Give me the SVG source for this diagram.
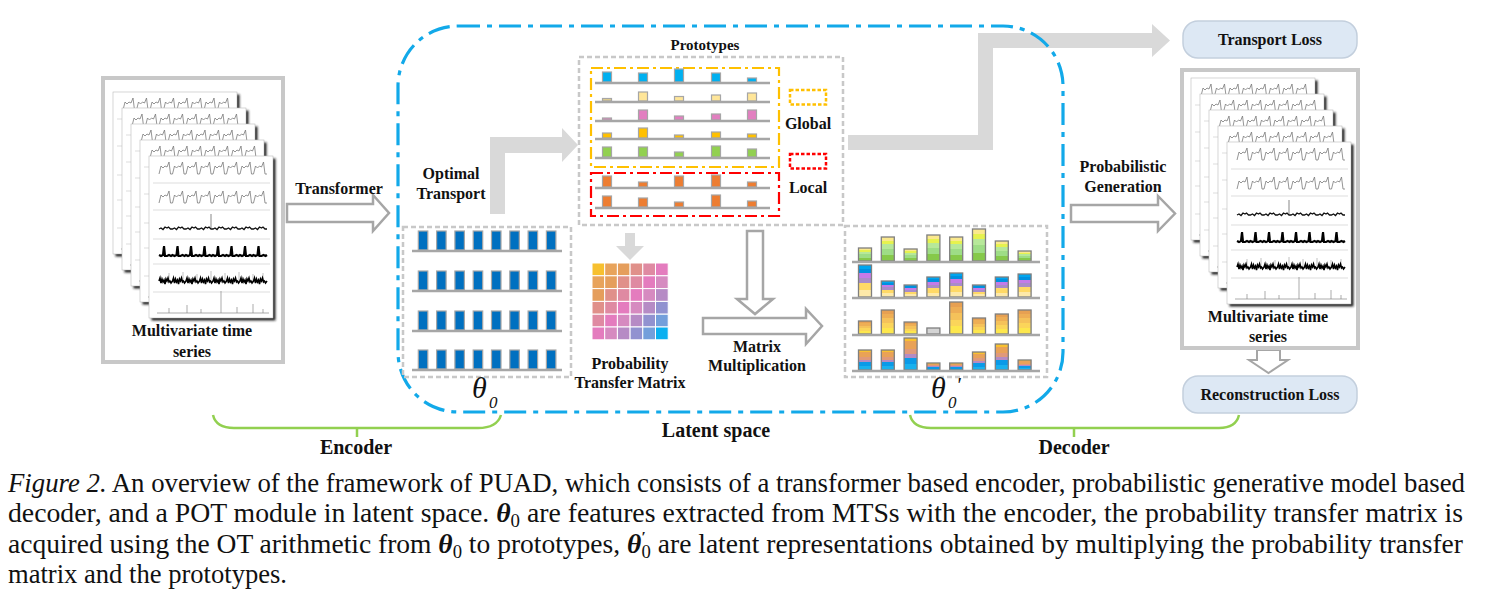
<svg xmlns="http://www.w3.org/2000/svg" width="1493" height="609" viewBox="0 0 1493 609">
<style>
  .lbl{font-family:"Liberation Serif","Times New Roman",serif;font-weight:bold;font-size:16px;fill:#111;text-anchor:middle}
  .big{font-family:"Liberation Serif","Times New Roman",serif;font-weight:bold;font-size:20px;fill:#111;text-anchor:middle}
  .cap{font-family:"Liberation Serif","Times New Roman",serif;font-size:26.5px;fill:#111}
  .math{font-family:"Liberation Serif","Times New Roman",serif;font-style:italic;fill:#111}
  .gbox{fill:none;stroke:#c8c8c8;stroke-width:2.5;stroke-dasharray:5 3}
  .base{stroke:#a6a6a6;stroke-width:2.5}
  .pb{stroke:#a6a6a6;stroke-width:1.2}
  .sb{stroke:#7f7f7f;stroke-width:1.3}
  .hollow{fill:#fff;stroke:#a6a6a6;stroke-width:2.5;stroke-linejoin:miter}
  .solid{fill:#d9d9d9;stroke:none}
  .brk{fill:none;stroke:#92d050;stroke-width:2.5}
  .lossbox{fill:#dde8f4;stroke:#c3cfdd;stroke-width:1.5}
  .w1{fill:none;stroke:#7a7a7a;stroke-width:0.8}
  .w3{fill:none;stroke:#111;stroke-width:1.3}
  .w4{fill:none;stroke:#000;stroke-width:2.2}
  .w5{fill:none;stroke:#000;stroke-width:1.6}
</style>
<defs>
  <filter id="blur" x="-10%" y="-10%" width="120%" height="120%"><feGaussianBlur stdDeviation="1.2"/></filter>
  <linearGradient id="gGreen" x1="0" y1="0" x2="0" y2="1">
    <stop offset="0" stop-color="#fbe98d"/><stop offset="0.15" stop-color="#fbe98d"/>
    <stop offset="0.15" stop-color="#e6f24f"/><stop offset="0.3" stop-color="#e6f24f"/>
    <stop offset="0.3" stop-color="#b7e89a"/><stop offset="0.5" stop-color="#b7e89a"/>
    <stop offset="0.5" stop-color="#9edd86"/><stop offset="0.75" stop-color="#9edd86"/>
    <stop offset="0.75" stop-color="#86c94a"/><stop offset="1" stop-color="#86c94a"/>
  </linearGradient>
  <linearGradient id="gBlue" x1="0" y1="0" x2="0" y2="1">
    <stop offset="0" stop-color="#00a6ef"/><stop offset="0.12" stop-color="#00a6ef"/>
    <stop offset="0.12" stop-color="#0090e0"/><stop offset="0.26" stop-color="#0090e0"/>
    <stop offset="0.26" stop-color="#c47be8"/><stop offset="0.4" stop-color="#c47be8"/>
    <stop offset="0.4" stop-color="#a98cc9"/><stop offset="0.55" stop-color="#a98cc9"/>
    <stop offset="0.55" stop-color="#ffd966"/><stop offset="0.78" stop-color="#ffd966"/>
    <stop offset="0.78" stop-color="#fde9a9"/><stop offset="1" stop-color="#fde9a9"/>
  </linearGradient>
  <linearGradient id="gOrange" x1="0" y1="0" x2="0" y2="1">
    <stop offset="0" stop-color="#e7a052"/><stop offset="0.15" stop-color="#e7a052"/>
    <stop offset="0.15" stop-color="#eeae55"/><stop offset="0.35" stop-color="#eeae55"/>
    <stop offset="0.35" stop-color="#f5c25a"/><stop offset="0.55" stop-color="#f5c25a"/>
    <stop offset="0.55" stop-color="#fbd55a"/><stop offset="0.75" stop-color="#fbd55a"/>
    <stop offset="0.75" stop-color="#fde74d"/><stop offset="1" stop-color="#fde74d"/>
  </linearGradient>
  <linearGradient id="gMix" x1="0" y1="0" x2="0" y2="1">
    <stop offset="0" stop-color="#f9c12f"/><stop offset="0.1" stop-color="#f9c12f"/>
    <stop offset="0.1" stop-color="#e9a257"/><stop offset="0.35" stop-color="#e9a257"/>
    <stop offset="0.35" stop-color="#e0997a"/><stop offset="0.5" stop-color="#e0997a"/>
    <stop offset="0.5" stop-color="#b48bc4"/><stop offset="0.62" stop-color="#b48bc4"/>
    <stop offset="0.62" stop-color="#0a9ae8"/><stop offset="0.82" stop-color="#0a9ae8"/>
    <stop offset="0.82" stop-color="#19b1ee"/><stop offset="1" stop-color="#19b1ee"/>
  </linearGradient>
  <g id="sheet">
    <rect x="2.5" y="2.5" width="124" height="162" fill="#222" filter="url(#blur)"/>
    <rect x="0" y="0" width="124" height="162" fill="#fff" stroke="#bbb" stroke-width="0.6"/>
    <path d="M4,27H121M4,54H121M4,83H121M4,108H121M4,136H121" stroke="#d4d4d4" stroke-width="0.8"/>
    <path class="w1" d="M10,18l2,-8l2,2l2,-2l2,1l2,-5l1.5,12l2,0l2,-8l2,2l2,-2l2,1l2,-5l1.5,12l2,0l2,-8l2,2l2,-2l2,1l2,-5l1.5,12l2,0l2,-8l2,2l2,-2l2,1l2,-5l1.5,12l2,0l2,-8l2,2l2,-2l2,1l2,-5l1.5,12l2,0l2,-8l2,2l2,-2l2,1l2,-5l1.5,12l2,0l2,-8l2,2l2,-2l2,1l2,-5l1.5,12l2,0l2,-8l2,2l2,-2l2,1l2,-5l1.5,12l2,0"/>
    <path class="w1" d="M10,47l2,-8l2,2l2,-2l2,1l2,-5l1.5,12l2,0l2,-8l2,2l2,-2l2,1l2,-5l1.5,12l2,0l2,-8l2,2l2,-2l2,1l2,-5l1.5,12l2,0l2,-8l2,2l2,-2l2,1l2,-5l1.5,12l2,0l2,-8l2,2l2,-2l2,1l2,-5l1.5,12l2,0l2,-8l2,2l2,-2l2,1l2,-5l1.5,12l2,0l2,-8l2,2l2,-2l2,1l2,-5l1.5,12l2,0l2,-8l2,2l2,-2l2,1l2,-5l1.5,12l2,0"/>
    <path class="w3" d="M10,73l2,-1l2,1.5l2,-2.5l2,1l1.5,-1l2,2l2,0l2,-1l2,1.5l2,-2.5l2,1l1.5,-1l2,2l2,0l2,-1l2,1.5l2,-2.5l2,1l1.5,-1l2,2l2,0l2,-1l2,1.5l2,-2.5l2,1l1.5,-1l2,2l2,0l2,-1l2,1.5l2,-2.5l2,1l1.5,-1l2,2l2,0l2,-1l2,1.5l2,-2.5l2,1l1.5,-1l2,2l2,0l2,-1l2,1.5l2,-2.5l2,1l1.5,-1l2,2l2,0l2,-1l2,1.5l2,-2.5l2,1l1.5,-1l2,2l2,0"/>
    <path d="M62,72V58" stroke="#555" stroke-width="0.7"/>
    <path class="w4" d="M10,99l2,1l2,-1l1,-9l1,10l2,0l2,-1l2,1l1.5,-1l2,1l2,-1l1,-9l1,10l2,0l2,-1l2,1l1.5,-1l2,1l2,-1l1,-9l1,10l2,0l2,-1l2,1l1.5,-1l2,1l2,-1l1,-9l1,10l2,0l2,-1l2,1l1.5,-1l2,1l2,-1l1,-9l1,10l2,0l2,-1l2,1l1.5,-1l2,1l2,-1l1,-9l1,10l2,0l2,-1l2,1l1.5,-1l2,1l2,-1l1,-9l1,10l2,0l2,-1l2,1l1.5,-1l2,1l2,-1l1,-9l1,10l2,0l2,-1l2,1l1.5,-1"/>
    <path d="M20,125v-8M34,125v-9M48,125v-7M62,125v-10M76,125v-8M90,125v-9M104,125v-7M114,125v-8" stroke="#999" stroke-width="0.6"/>
    <path class="w5" d="M10,125l1,-3l1,5l1,-4l1,3l1,-2l1,4l1,-5l1,2l1,-3l1,4l1,-1l1,2l1.5,-2l1,-3l1,5l1,-4l1,3l1,-2l1,4l1,-5l1,2l1,-3l1,4l1,-1l1,2l1.5,-2l1,-3l1,5l1,-4l1,3l1,-2l1,4l1,-5l1,2l1,-3l1,4l1,-1l1,2l1.5,-2l1,-3l1,5l1,-4l1,3l1,-2l1,4l1,-5l1,2l1,-3l1,4l1,-1l1,2l1.5,-2l1,-3l1,5l1,-4l1,3l1,-2l1,4l1,-5l1,2l1,-3l1,4l1,-1l1,2l1.5,-2l1,-3l1,5l1,-4l1,3l1,-2l1,4l1,-5l1,2l1,-3l1,4l1,-1l1,2l1.5,-2l1,-3l1,5l1,-4l1,3l1,-2l1,4l1,-5l1,2l1,-3l1,4l1,-1l1,2l1.5,-2l1,-3l1,5l1,-4l1,3l1,-2l1,4l1,-5l1,2l1,-3l1,4l1,-1l1,2l1.5,-2"/>
    <path d="M8,157H120M20,157v-5M38,157v-8M52,157v-4M72,157v-22M88,157v-6M104,157v-9M114,157v-4" stroke="#888" stroke-width="0.7" fill="none"/>
  </g>
  <g id="brow">
    <rect x="418.3" y="-20" width="9.5" height="19" fill="#0070c0" class="pb"/>
    <rect x="436.6" y="-20" width="9.5" height="19" fill="#0070c0" class="pb"/>
    <rect x="454.9" y="-20" width="9.5" height="19" fill="#0070c0" class="pb"/>
    <rect x="473.2" y="-20" width="9.5" height="19" fill="#0070c0" class="pb"/>
    <rect x="491.5" y="-20" width="9.5" height="19" fill="#0070c0" class="pb"/>
    <rect x="509.8" y="-20" width="9.5" height="19" fill="#0070c0" class="pb"/>
    <rect x="528.1" y="-20" width="9.5" height="19" fill="#0070c0" class="pb"/>
    <rect x="546.4" y="-20" width="9.5" height="19" fill="#0070c0" class="pb"/>
    <line x1="412" y1="0" x2="562" y2="0" class="base"/>
  </g>
</defs>
<rect width="1493" height="609" fill="#fff"/>

<!-- connectors -->
<g id="connectors">
  <polygon class="solid" points="848,135 978,135 978,33 1152,33 1152,24 1170,40.5 1152,57 1152,48 993,48 993,150 848,150"/>
  <polygon class="hollow" points="287,204 373,204 373,195 389,213 373,231 373,222 287,222"/>
  <polygon class="solid" points="490,214 490,137 562,137 562,128 578,145 562,162 562,153 505,153 505,214"/>
  <polygon class="solid" points="625,233 635,233 635,246 644,246 630,260 616,246 625,246"/>
  <polygon class="hollow" points="747,231 763,231 763,299 773,299 755,314 737,299 747,299"/>
  <polygon class="hollow" points="703,318 806,318 806,309 822,326 806,344 806,334 703,334"/>
  <polygon class="hollow" points="1071,205 1158,205 1158,196 1175,213.5 1158,231 1158,222 1071,222"/>
  <polygon class="hollow" points="1257,350 1280,350 1280,360 1288,360 1268.5,373 1249,360 1257,360" style="stroke-width:2"/>
</g>

<!-- latent space boundary -->
<g id="latent-space">
  <rect x="398" y="26" width="665" height="386" rx="60" fill="none" stroke="#12a9e9" stroke-width="3.2" stroke-dasharray="22 7 5 7"/>
</g>

<!-- input MTS -->
<g id="mts-input">
  <rect x="103" y="78" width="180" height="284" fill="#fff" stroke="#c8c8c8" stroke-width="4"/>
  <use href="#sheet" x="113" y="92"/>
  <use href="#sheet" x="122" y="108"/>
  <use href="#sheet" x="131" y="124"/>
  <use href="#sheet" x="140" y="140"/>
  <use href="#sheet" x="149" y="156"/>
  <text class="lbl" x="192" y="336">Multivariate time</text>
  <text class="lbl" x="192" y="357">series</text>
</g>

<g id="labels">
  <text class="lbl" x="339" y="193.5">Transformer</text>
  <text class="lbl" x="451" y="178.5">Optimal</text>
  <text class="lbl" x="451" y="198.5">Transport</text>
  <text class="lbl" x="757" y="352">Matrix</text>
  <text class="lbl" x="757" y="371">Multiplication</text>
  <text class="lbl" x="1123" y="172">Probabilistic</text>
  <text class="lbl" x="1123" y="192">Generation</text>
</g>

<!-- theta0 -->
<g id="theta0">
  <rect class="gbox" x="403" y="227" width="168" height="150"/>
  <use href="#brow" transform="translate(0,251)"/>
  <use href="#brow" transform="translate(0,291)"/>
  <use href="#brow" transform="translate(0,331)"/>
  <use href="#brow" transform="translate(0,370)"/>
  <text class="math" x="472" y="398" font-size="30">θ</text>
  <text class="math" x="489" y="408" font-size="17" font-style="normal">0</text>
</g>

<!-- prototypes -->
<g id="prototypes">
  <text class="lbl" x="705" y="50" style="font-size:15px">Prototypes</text>
  <rect class="gbox" x="579" y="57" width="264" height="168"/>
  <rect x="591" y="68" width="188" height="99" fill="none" stroke="#ffc000" stroke-width="2.2" stroke-dasharray="12 4 3 4"/>
  <rect x="591" y="173" width="188" height="43" fill="none" stroke="#ff0000" stroke-width="2.2" stroke-dasharray="12 4 3 4"/>
  <g class="pb">
    <rect x="602.5" y="72" width="9" height="10" fill="#00b0f0"/>
    <rect x="638.5" y="73" width="9" height="9" fill="#00b0f0"/>
    <rect x="674.5" y="69" width="9" height="13" fill="#00b0f0"/>
    <rect x="711.5" y="73" width="9" height="9" fill="#00b0f0"/>
    <rect x="747.5" y="78" width="9" height="4" fill="#00b0f0"/>
    <rect x="602.5" y="98.5" width="9" height="2.5" fill="#e3cf8c"/>
    <rect x="638.5" y="92" width="9" height="9" fill="#ffe699"/>
    <rect x="674.5" y="96.5" width="9" height="4.5" fill="#ffe699"/>
    <rect x="711.5" y="95" width="9" height="6" fill="#ffe699"/>
    <rect x="747.5" y="93" width="9" height="8" fill="#ffe699"/>
    <rect x="602.5" y="118" width="9" height="2" fill="#e27fc0"/>
    <rect x="638.5" y="110" width="9" height="10" fill="#e27fc0"/>
    <rect x="674.5" y="116" width="9" height="4" fill="#e27fc0"/>
    <rect x="711.5" y="114" width="9" height="6" fill="#e27fc0"/>
    <rect x="747.5" y="110" width="9" height="10" fill="#e27fc0"/>
    <rect x="602.5" y="133" width="9" height="5" fill="#ffc000"/>
    <rect x="638.5" y="128" width="9" height="10" fill="#ffc000"/>
    <rect x="674.5" y="135" width="9" height="3" fill="#ffc000"/>
    <rect x="711.5" y="132" width="9" height="6" fill="#ffc000"/>
    <rect x="747.5" y="134" width="9" height="4" fill="#ffc000"/>
    <rect x="602.5" y="147" width="9" height="10" fill="#92d050"/>
    <rect x="638.5" y="147" width="9" height="10" fill="#92d050"/>
    <rect x="674.5" y="152" width="9" height="5" fill="#92d050"/>
    <rect x="711.5" y="146" width="9" height="11" fill="#92d050"/>
    <rect x="747.5" y="149" width="9" height="8" fill="#92d050"/>
    <rect x="602.5" y="176" width="9" height="11" fill="#ed7d31"/>
    <rect x="638.5" y="182" width="9" height="5" fill="#ed7d31"/>
    <rect x="674.5" y="176" width="9" height="11" fill="#ed7d31"/>
    <rect x="711.5" y="175" width="9" height="12" fill="#ed7d31"/>
    <rect x="747.5" y="182" width="9" height="5" fill="#ed7d31"/>
    <rect x="602.5" y="196" width="9" height="11" fill="#ed7d31"/>
    <rect x="638.5" y="198" width="9" height="9" fill="#ed7d31"/>
    <rect x="674.5" y="202" width="9" height="5" fill="#ed7d31"/>
    <rect x="711.5" y="195" width="9" height="12" fill="#ed7d31"/>
    <rect x="747.5" y="201" width="9" height="6" fill="#ed7d31"/>
  </g>
  <path class="base" d="M595,83H770M595,102H770M595,121H770M595,139H770M595,158H770M595,188H770M595,208H770"/>
  <rect x="790" y="90" width="36" height="14.5" fill="none" stroke="#ffc000" stroke-width="2.5" stroke-dasharray="3.5 2"/>
  <rect x="790" y="154" width="36" height="14.5" fill="none" stroke="#ff0000" stroke-width="2.5" stroke-dasharray="3.5 2"/>
  <text class="lbl" x="808" y="129">Global</text>
  <text class="lbl" x="808" y="193">Local</text>
</g>

<!-- probability transfer matrix -->
<g id="transfer-matrix" stroke="#fff" stroke-width="1">
  <rect x="592" y="263" width="12.7" height="12.8" fill="#f7c02f"/>
  <rect x="604.7" y="263" width="12.7" height="12.8" fill="#e8a35b"/>
  <rect x="617.4" y="263" width="12.7" height="12.8" fill="#e59e5c"/>
  <rect x="630.1" y="263" width="12.7" height="12.8" fill="#e0908a"/>
  <rect x="642.8" y="263" width="12.7" height="12.8" fill="#df8aa2"/>
  <rect x="655.5" y="263" width="12.7" height="12.8" fill="#e47cbe"/>
  <rect x="592" y="275.8" width="12.7" height="12.8" fill="#e8a35b"/>
  <rect x="604.7" y="275.8" width="12.7" height="12.8" fill="#e59e5c"/>
  <rect x="617.4" y="275.8" width="12.7" height="12.8" fill="#e0908a"/>
  <rect x="630.1" y="275.8" width="12.7" height="12.8" fill="#df8aa2"/>
  <rect x="642.8" y="275.8" width="12.7" height="12.8" fill="#e47cbe"/>
  <rect x="655.5" y="275.8" width="12.7" height="12.8" fill="#d68ac0"/>
  <rect x="592" y="288.6" width="12.7" height="12.8" fill="#e59e5c"/>
  <rect x="604.7" y="288.6" width="12.7" height="12.8" fill="#e0908a"/>
  <rect x="617.4" y="288.6" width="12.7" height="12.8" fill="#df8aa2"/>
  <rect x="630.1" y="288.6" width="12.7" height="12.8" fill="#e47cbe"/>
  <rect x="642.8" y="288.6" width="12.7" height="12.8" fill="#d68ac0"/>
  <rect x="655.5" y="288.6" width="12.7" height="12.8" fill="#b68bc5"/>
  <rect x="592" y="301.4" width="12.7" height="12.8" fill="#e0908a"/>
  <rect x="604.7" y="301.4" width="12.7" height="12.8" fill="#df8aa2"/>
  <rect x="617.4" y="301.4" width="12.7" height="12.8" fill="#e47cbe"/>
  <rect x="630.1" y="301.4" width="12.7" height="12.8" fill="#d68ac0"/>
  <rect x="642.8" y="301.4" width="12.7" height="12.8" fill="#b68bc5"/>
  <rect x="655.5" y="301.4" width="12.7" height="12.8" fill="#9192d0"/>
  <rect x="592" y="314.2" width="12.7" height="12.8" fill="#df8aa2"/>
  <rect x="604.7" y="314.2" width="12.7" height="12.8" fill="#e47cbe"/>
  <rect x="617.4" y="314.2" width="12.7" height="12.8" fill="#d68ac0"/>
  <rect x="630.1" y="314.2" width="12.7" height="12.8" fill="#b68bc5"/>
  <rect x="642.8" y="314.2" width="12.7" height="12.8" fill="#9192d0"/>
  <rect x="655.5" y="314.2" width="12.7" height="12.8" fill="#739fdb"/>
  <rect x="592" y="327" width="12.7" height="12.8" fill="#e47cbe"/>
  <rect x="604.7" y="327" width="12.7" height="12.8" fill="#d68ac0"/>
  <rect x="617.4" y="327" width="12.7" height="12.8" fill="#b68bc5"/>
  <rect x="630.1" y="327" width="12.7" height="12.8" fill="#9192d0"/>
  <rect x="642.8" y="327" width="12.7" height="12.8" fill="#739fdb"/>
  <rect x="655.5" y="327" width="12.7" height="12.8" fill="#0ab0f0"/>
</g>
<g id="transfer-matrix-label">
  <text class="lbl" x="630" y="369">Probability</text>
  <text class="lbl" x="630" y="388">Transfer Matrix</text>
</g>

<!-- theta0 prime -->
<g id="theta0-prime">
  <rect class="gbox" x="845" y="226" width="202" height="151"/>
  <g class="sb">
    <rect x="858.5" y="248" width="13" height="13" fill="url(#gGreen)"/>
    <rect x="881.3" y="237" width="13" height="24" fill="url(#gGreen)"/>
    <rect x="904.1" y="249" width="13" height="12" fill="url(#gGreen)"/>
    <rect x="926.9" y="235" width="13" height="26" fill="url(#gGreen)"/>
    <rect x="949.7" y="237" width="13" height="24" fill="url(#gGreen)"/>
    <rect x="972.5" y="229" width="13" height="32" fill="url(#gGreen)"/>
    <rect x="995.3" y="241" width="13" height="20" fill="url(#gGreen)"/>
    <rect x="1018.1" y="251" width="13" height="10" fill="url(#gGreen)"/>
    <rect x="858.5" y="265" width="13" height="32" fill="url(#gBlue)"/>
    <rect x="881.3" y="281" width="13" height="16" fill="url(#gBlue)"/>
    <rect x="904.1" y="285" width="13" height="12" fill="url(#gBlue)"/>
    <rect x="926.9" y="277" width="13" height="20" fill="url(#gBlue)"/>
    <rect x="949.7" y="273" width="13" height="24" fill="url(#gBlue)"/>
    <rect x="972.5" y="285" width="13" height="12" fill="url(#gBlue)"/>
    <rect x="995.3" y="277" width="13" height="20" fill="url(#gBlue)"/>
    <rect x="1018.1" y="274" width="13" height="23" fill="url(#gBlue)"/>
    <rect x="858.5" y="321" width="13" height="13" fill="url(#gOrange)"/>
    <rect x="881.3" y="310" width="13" height="24" fill="url(#gOrange)"/>
    <rect x="904.1" y="322" width="13" height="12" fill="url(#gOrange)"/>
    <rect x="926.9" y="328" width="13" height="6" fill="#d4d4d4"/>
    <rect x="949.7" y="302" width="13" height="32" fill="url(#gOrange)"/>
    <rect x="972.5" y="318" width="13" height="16" fill="url(#gOrange)"/>
    <rect x="995.3" y="314" width="13" height="20" fill="url(#gOrange)"/>
    <rect x="1018.1" y="310" width="13" height="24" fill="url(#gOrange)"/>
    <rect x="858.5" y="350" width="13" height="20" fill="url(#gMix)"/>
    <rect x="881.3" y="350" width="13" height="20" fill="url(#gMix)"/>
    <rect x="904.1" y="338" width="13" height="32" fill="url(#gMix)"/>
    <rect x="926.9" y="363" width="13" height="7" fill="url(#gMix)"/>
    <rect x="949.7" y="363" width="13" height="7" fill="url(#gMix)"/>
    <rect x="972.5" y="352" width="13" height="18" fill="url(#gMix)"/>
    <rect x="995.3" y="344" width="13" height="26" fill="url(#gMix)"/>
    <rect x="1018.1" y="360" width="13" height="10" fill="url(#gMix)"/>
  </g>
  <path class="base" d="M852,262H1040M852,298H1040M852,335H1040M852,371H1040"/>
  <text class="math" x="931" y="398" font-size="30">θ</text>
  <text class="math" x="948" y="408" font-size="17" font-style="normal">0</text>
  <text class="math" x="956" y="392" font-size="22" font-style="normal">'</text>
</g>

<!-- output side -->
<g id="transport-loss">
  <rect class="lossbox" x="1183" y="21" width="174" height="37" rx="15"/>
  <text class="lbl" x="1270" y="45">Transport Loss</text>
</g>
<g id="mts-output">
  <rect x="1182" y="70" width="176" height="278" fill="#fff" stroke="#c8c8c8" stroke-width="4"/>
  <use href="#sheet" x="1191" y="78"/>
  <use href="#sheet" x="1200" y="94"/>
  <use href="#sheet" x="1209" y="110"/>
  <use href="#sheet" x="1218" y="126"/>
  <use href="#sheet" x="1227" y="142"/>
  <text class="lbl" x="1268" y="322">Multivariate time</text>
  <text class="lbl" x="1268" y="342">series</text>
</g>
<g id="reconstruction-loss">
  <rect class="lossbox" x="1183" y="376" width="174" height="37" rx="15"/>
  <text class="lbl" x="1270" y="400">Reconstruction Loss</text>
</g>

<!-- brackets -->
<g id="encoder-bracket">
  <path class="brk" d="M213,415Q216,428 234,428L478,428Q497,428 501,415M357,428V437"/>
  <text class="big" x="356" y="454">Encoder</text>
</g>
<g id="latent-label">
  <text class="big" x="716" y="437">Latent space</text>
</g>
<g id="decoder-bracket">
  <path class="brk" d="M910,415Q913,428 931,428L1219,428Q1236,428 1239,415M1074,428V437"/>
  <text class="big" x="1074" y="454">Decoder</text>
</g>

<!-- caption -->
<g id="caption">
  <text class="cap" x="8" y="492" textLength="1457" lengthAdjust="spacingAndGlyphs"><tspan font-style="italic">Figure 2.</tspan> An overview of the framework of PUAD, which consists of a transformer based encoder, probabilistic generative model based</text>
  <text class="cap" x="8" y="522" textLength="1455" lengthAdjust="spacingAndGlyphs">decoder, and a POT module in latent space. <tspan font-weight="bold" font-style="italic">θ</tspan><tspan font-size="18" dy="5">0</tspan><tspan dy="-5"> are features extracted from MTSs with the encoder, the probability transfer matrix is</tspan></text>
  <text class="cap" x="8" y="553" textLength="1455" lengthAdjust="spacingAndGlyphs">acquired using the OT arithmetic from <tspan font-weight="bold" font-style="italic">θ</tspan><tspan font-size="18" dy="5">0</tspan><tspan dy="-5"> to prototypes, </tspan><tspan font-weight="bold" font-style="italic">θ</tspan><tspan font-size="15" font-weight="bold" font-style="italic" dy="-11">′</tspan><tspan font-size="18" dx="-4" dy="16">0</tspan><tspan dy="-5"> are latent representations obtained by multiplying the probability transfer</tspan></text>
  <text class="cap" x="8" y="583" textLength="279" lengthAdjust="spacingAndGlyphs">matrix and the prototypes.</text>
</g>
</svg>
